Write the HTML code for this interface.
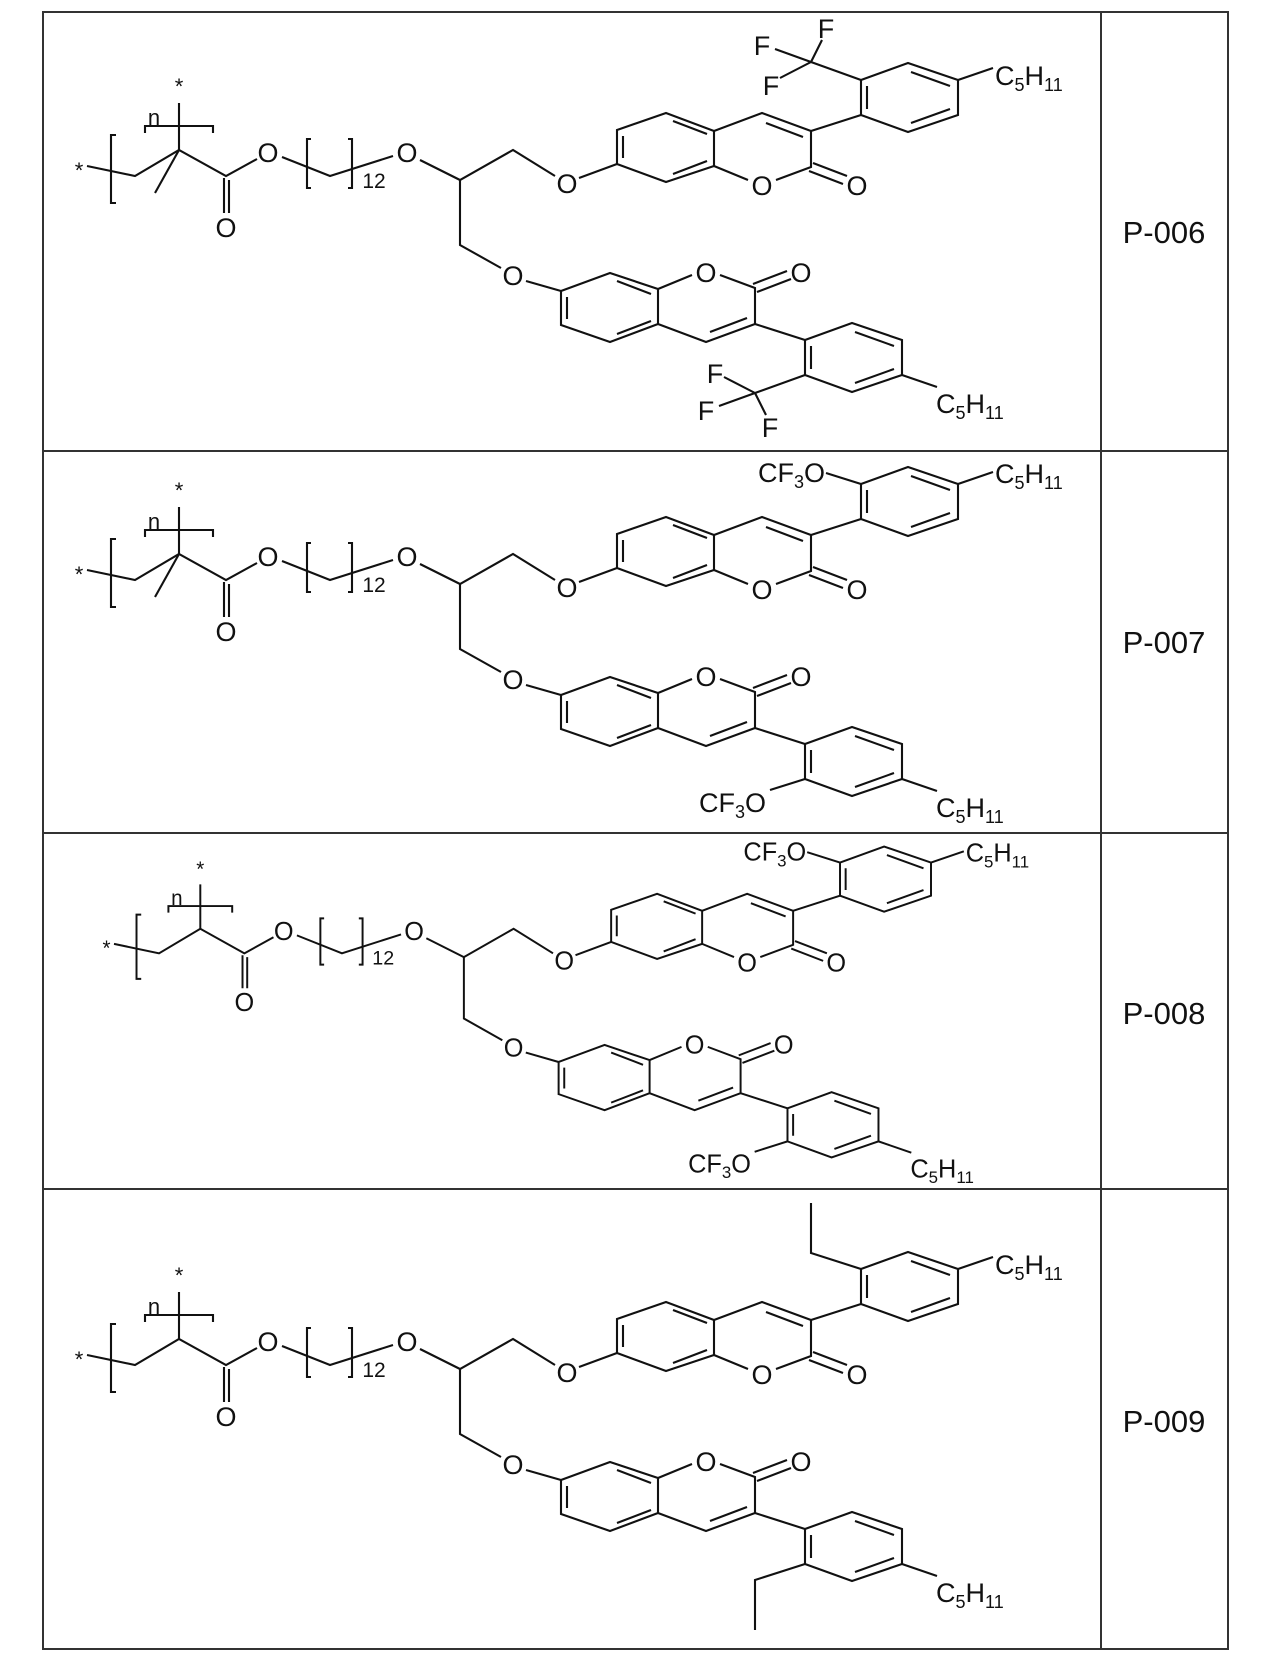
<!DOCTYPE html>
<html><head><meta charset="utf-8"><style>
html,body{margin:0;padding:0;background:#fff;}
svg{display:block}
text{font-family:"Liberation Sans",Arial,sans-serif;fill:#111;}
</style></head><body>
<svg width="1280" height="1662" viewBox="0 0 1280 1662" xmlns="http://www.w3.org/2000/svg">
<defs>
<g id="chain" fill="none" stroke="#111" stroke-width="2.1">
<path d="M87,166 L135,176 L179,150 L226,176 L257,159"/>
<path d="M224,178 V213 M229,180 V213"/>
<path d="M282,157 L330,176 L393,156"/>
<path d="M420,160 L460,180 L513,150 L555,176"/>
<path d="M579,178 L617,164"/>
<path d="M460,180 L460,245 L501,268"/>
<path d="M526,281 L561,291"/>
<path d="M116,135 H111 V203 H116"/>
<path d="M311,139 H307 V188 H311 M348,139 H352 V188 H348"/>
<path d="M145,133 V126 H213 V133 M179,103 V150"/>
</g>
<g id="half" fill="none" stroke="#111" stroke-width="2.1">
<path d="M617,130 L666,113 L714,131 L714,166 L666,182 L617,164 Z"/>
<path d="M623,136 V158 M673,121 L707,134 M707,161 L673,174"/>
<path d="M714,131 L762,113 L811,131 L811,167 L776,180 M748,180 L714,166"/>
<path d="M766,123 L803,137"/>
<path d="M813,163 L847,176 M809,171 L843,184"/>
<path d="M811,131 L861,115"/>
<path d="M861,80 L908,63 L958,80 L958,115 L908,132 L861,115 Z"/>
<path d="M867,86 V109 M911,72 L950,86 M950,109 L911,123"/>
<path d="M958,80 L993,68"/>
</g>
<g id="cf3" fill="none" stroke="#111" stroke-width="2.1">
<path d="M861,80 L811,62 M811,62 L822,40 M811,62 L775,49 M811,62 L780,78"/>
</g>
<g id="ocf3" fill="none" stroke="#111" stroke-width="2.1">
<path d="M861,80 L826,69"/>
</g>
<g id="et" fill="none" stroke="#111" stroke-width="2.1">
<path d="M861,80 L811,64 L811,14"/>
</g>
</defs>

<g fill="none" stroke="#333" stroke-width="2">
<rect x="43" y="12" width="1185" height="1637"/>
<path d="M1101,12 V1649 M43,451 H1228 M43,833 H1228 M43,1189 H1228"/>
</g>
<g font-size="31" text-anchor="middle">
<text x="1164" y="243">P-006</text>
<text x="1164" y="653">P-007</text>
<text x="1164" y="1024">P-008</text>
<text x="1164" y="1432">P-009</text>
</g>

<!-- ROW 1 -->
<g>
<use href="#chain"/>
<path d="M179,150 L155,193" stroke="#111" stroke-width="2.1" fill="none"/>
<use href="#half"/>
<use href="#cf3"/>
<g transform="translate(-56,455) scale(1,-1)"><use href="#half"/><use href="#cf3"/></g>
<g font-size="27" text-anchor="middle">
<text x="79" y="178" font-size="22">*</text>
<text x="179" y="94" font-size="22">*</text>
<text x="154" y="125" font-size="22">n</text>
<text x="226" y="237">O</text>
<text x="268" y="162">O</text>
<text x="374" y="188" font-size="21">12</text>
<text x="407" y="162">O</text>
<text x="567" y="193">O</text>
<text x="762" y="195">O</text>
<text x="857" y="195">O</text>
<text x="513" y="285">O</text>
<text x="706" y="282">O</text>
<text x="801" y="282">O</text>
<text x="826" y="38">F</text>
<text x="762" y="55">F</text>
<text x="771" y="95">F</text>
<text x="715" y="383">F</text>
<text x="706" y="420">F</text>
<text x="770" y="437">F</text>
</g>
<g font-size="27">
<text x="995" y="85">C<tspan dy="6" font-size="18">5</tspan><tspan dy="-6">H</tspan><tspan dy="6" font-size="18">11</tspan></text>
<text x="936" y="413">C<tspan dy="6" font-size="18">5</tspan><tspan dy="-6">H</tspan><tspan dy="6" font-size="18">11</tspan></text>
</g>
</g>

<!-- ROW 2 -->
<g transform="translate(0,404)">
<use href="#chain"/>
<path d="M179,150 L155,193" stroke="#111" stroke-width="2.1" fill="none"/>
<use href="#half"/>
<use href="#ocf3"/>
<g transform="translate(-56,455) scale(1,-1)"><use href="#half"/><use href="#ocf3"/></g>
<g font-size="27" text-anchor="middle">
<text x="79" y="178" font-size="22">*</text>
<text x="179" y="94" font-size="22">*</text>
<text x="154" y="125" font-size="22">n</text>
<text x="226" y="237">O</text>
<text x="268" y="162">O</text>
<text x="374" y="188" font-size="21">12</text>
<text x="407" y="162">O</text>
<text x="567" y="193">O</text>
<text x="762" y="195">O</text>
<text x="857" y="195">O</text>
<text x="513" y="285">O</text>
<text x="706" y="282">O</text>
<text x="801" y="282">O</text>
</g>
<g font-size="27">
<text x="825" y="78" text-anchor="end">CF<tspan dy="6" font-size="18">3</tspan><tspan dy="-6">O</tspan></text>
<text x="766" y="408" text-anchor="end">CF<tspan dy="6" font-size="18">3</tspan><tspan dy="-6">O</tspan></text>
<text x="995" y="79">C<tspan dy="6" font-size="18">5</tspan><tspan dy="-6">H</tspan><tspan dy="6" font-size="18">11</tspan></text>
<text x="936" y="413">C<tspan dy="6" font-size="18">5</tspan><tspan dy="-6">H</tspan><tspan dy="6" font-size="18">11</tspan></text>
</g>
</g>

<!-- ROW 3 -->
<g transform="translate(32.4,787) scale(0.938,0.945)">
<use href="#chain"/>
<use href="#half"/>
<use href="#ocf3"/>
<g transform="translate(-56,455) scale(1,-1)"><use href="#half"/><use href="#ocf3"/></g>
<g font-size="27" text-anchor="middle">
<text x="79" y="178" font-size="22">*</text>
<text x="179" y="94" font-size="22">*</text>
<text x="154" y="125" font-size="22">n</text>
<text x="226" y="237">O</text>
<text x="268" y="162">O</text>
<text x="374" y="188" font-size="21">12</text>
<text x="407" y="162">O</text>
<text x="567" y="193">O</text>
<text x="762" y="195">O</text>
<text x="857" y="195">O</text>
<text x="513" y="285">O</text>
<text x="706" y="282">O</text>
<text x="801" y="282">O</text>
</g>
<g font-size="27">
<text x="825" y="78" text-anchor="end">CF<tspan dy="6" font-size="18">3</tspan><tspan dy="-6">O</tspan></text>
<text x="766" y="408" text-anchor="end">CF<tspan dy="6" font-size="18">3</tspan><tspan dy="-6">O</tspan></text>
<text x="995" y="79">C<tspan dy="6" font-size="18">5</tspan><tspan dy="-6">H</tspan><tspan dy="6" font-size="18">11</tspan></text>
<text x="936" y="413">C<tspan dy="6" font-size="18">5</tspan><tspan dy="-6">H</tspan><tspan dy="6" font-size="18">11</tspan></text>
</g>
</g>

<!-- ROW 4 -->
<g transform="translate(0,1189)">
<use href="#chain"/>
<use href="#half"/>
<use href="#et"/>
<g transform="translate(-56,455) scale(1,-1)"><use href="#half"/><use href="#et"/></g>
<g font-size="27" text-anchor="middle">
<text x="79" y="178" font-size="22">*</text>
<text x="179" y="94" font-size="22">*</text>
<text x="154" y="125" font-size="22">n</text>
<text x="226" y="237">O</text>
<text x="268" y="162">O</text>
<text x="374" y="188" font-size="21">12</text>
<text x="407" y="162">O</text>
<text x="567" y="193">O</text>
<text x="762" y="195">O</text>
<text x="857" y="195">O</text>
<text x="513" y="285">O</text>
<text x="706" y="282">O</text>
<text x="801" y="282">O</text>
</g>
<g font-size="27">
<text x="995" y="85">C<tspan dy="6" font-size="18">5</tspan><tspan dy="-6">H</tspan><tspan dy="6" font-size="18">11</tspan></text>
<text x="936" y="413">C<tspan dy="6" font-size="18">5</tspan><tspan dy="-6">H</tspan><tspan dy="6" font-size="18">11</tspan></text>
</g>
</g>
</svg>
</body></html>
